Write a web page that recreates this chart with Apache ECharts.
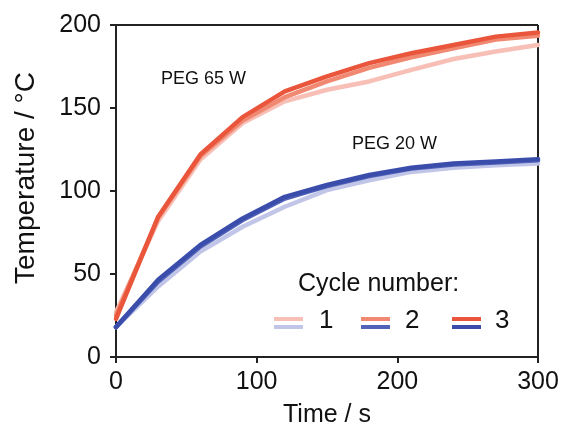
<!DOCTYPE html>
<html>
<head>
<meta charset="utf-8">
<script src="https://cdn.jsdelivr.net/npm/echarts@6/dist/echarts.min.js"></script>
<style>
  html, body { margin: 0; padding: 0; background: #fff; }
  #chart { width: 562px; height: 429px; }
</style>
</head>
<body>
<div id="chart"></div>
<script>
// Sampling times (s)
const times = [0, 30, 60, 90, 120, 150, 180, 210, 240, 270, 300];

// PEG 65 W heating curves, one per cycle (°C)
const peg65Cycle1 = [27, 82, 119, 141, 154, 161, 166, 173, 179.5, 184, 188];
const peg65Cycle2 = [25, 84, 121, 142.5, 156.5, 166, 174.2, 180.5, 186, 191.3, 193.5];
const peg65Cycle3 = [23, 84.5, 122, 144.5, 160, 169, 177, 183, 188, 193, 195.5];

// PEG 20 W heating curves, one per cycle (°C)
const peg20Cycle1 = [18, 42.5, 63.5, 78.5, 90.5, 100.5, 106.5, 111.5, 114, 115.5, 116.5];
const peg20Cycle2 = [18, 45.5, 66.5, 82.5, 95.5, 103, 109, 113.5, 116, 117.2, 118.5];
const peg20Cycle3 = [18, 46.5, 67.5, 83.5, 96.5, 103.6, 109.6, 114, 116.6, 117.8, 119.2];

// Tick values
const xTicks = [0, 100, 200, 300];
const yTicks = [0, 50, 100, 150, 200];

const cycleLabels = ['1', '2', '3'];
const redShades = ['#f7bfb5', '#f08872', '#ea563c'];
const blueShades = ['#c1c6e8', '#5163b8', '#3a4dab'];

const FONT = 'Liberation Sans, Arial, sans-serif';

function pairs(ys) { return times.map((t, i) => [t, ys[i]]); }

function curve(name, ys, color, z) {
  return {
    name: name,
    type: 'line',
    data: pairs(ys),
    showSymbol: false,
    symbol: 'none',
    z: z,
    lineStyle: { color: color, width: 4.5, join: 'round', cap: 'round' },
    silent: true
  };
}

const chart = echarts.init(document.getElementById('chart'), null, { renderer: 'canvas' });

// Legend: two short strokes (red over blue) per cycle, then the cycle number
const legendX = [274, 361, 452];
const legendNumX = [319, 405, 495];
const legendGraphics = [
  {
    type: 'text', left: 298, top: 272,
    style: { text: 'Cycle number:', font: '25px ' + FONT, fill: '#111' }
  }
];
cycleLabels.forEach((lab, i) => {
  const x0 = legendX[i];
  legendGraphics.push({
    type: 'line', shape: { x1: x0, y1: 319, x2: x0 + 29, y2: 319 },
    style: { stroke: redShades[i], lineWidth: 4 }
  });
  legendGraphics.push({
    type: 'line', shape: { x1: x0, y1: 327, x2: x0 + 29, y2: 327 },
    style: { stroke: blueShades[i], lineWidth: 4 }
  });
  legendGraphics.push({
    type: 'text', left: legendNumX[i], top: 308,
    style: { text: lab, font: '26px ' + FONT, fill: '#111' }
  });
});

chart.setOption({
  backgroundColor: '#fff',
  animation: false,
  grid: { left: 116, right: 24, top: 25, bottom: 72, show: false,
          containLabel: false, outerBoundsMode: 'none' },
  xAxis: {
    type: 'value',
    min: 0, max: 300, interval: 100,
    name: 'Time / s',
    nameLocation: 'middle',
    nameGap: 46,
    nameTextStyle: { fontFamily: FONT, fontSize: 25, color: '#111' },
    axisLine: { show: true, onZero: false, lineStyle: { color: '#222', width: 2 } },
    axisTick: { show: true, length: 6, lineStyle: { color: '#222', width: 2 } },
    axisLabel: { fontFamily: FONT, fontSize: 25, color: '#111', margin: 13,
                 formatter: v => xTicks.includes(v) ? String(v) : '' },
    splitLine: { show: false }
  },
  yAxis: {
    type: 'value',
    min: 0, max: 200, interval: 50,
    name: 'Temperature / °C',
    nameLocation: 'middle',
    nameGap: 76,
    nameTextStyle: { fontFamily: FONT, fontSize: 28, color: '#111', padding: [0, 0, 0, 26] },
    axisLine: { show: true, onZero: false, lineStyle: { color: '#222', width: 2 } },
    axisTick: { show: true, length: 6, lineStyle: { color: '#222', width: 2 } },
    axisLabel: { fontFamily: FONT, fontSize: 25, color: '#111', margin: 15,
                 formatter: v => yTicks.includes(v) ? String(v) : '' },
    splitLine: { show: false }
  },
  series: [
    curve('PEG 20 W – 1', peg20Cycle1, blueShades[0], 2),
    curve('PEG 65 W – 1', peg65Cycle1, redShades[0], 2),
    curve('PEG 20 W – 2', peg20Cycle2, blueShades[1], 3),
    curve('PEG 65 W – 2', peg65Cycle2, redShades[1], 3),
    curve('PEG 20 W – 3', peg20Cycle3, blueShades[2], 4),
    curve('PEG 65 W – 3', peg65Cycle3, redShades[2], 4)
  ],
  graphic: [
    // frame on the top and right of the plot area
    { type: 'line', shape: { x1: 116, y1: 25, x2: 538, y2: 25 }, style: { stroke: '#222', lineWidth: 2 } },
    { type: 'line', shape: { x1: 538, y1: 25, x2: 538, y2: 357 }, style: { stroke: '#222', lineWidth: 2 } },
    { type: 'text', left: 161, top: 70, style: { text: 'PEG 65 W', font: '18px ' + FONT, fill: '#111' } },
    { type: 'text', left: 352, top: 135, style: { text: 'PEG 20 W', font: '18px ' + FONT, fill: '#111' } }
  ].concat(legendGraphics)
});
</script>
</body>
</html>
